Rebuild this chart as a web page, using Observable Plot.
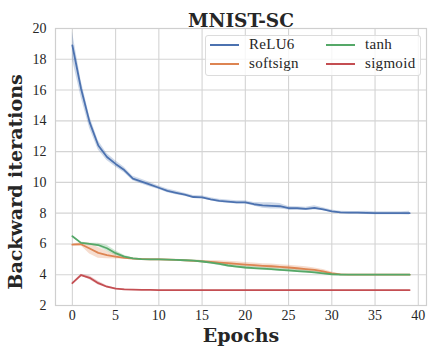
<!DOCTYPE html>
<html><head><meta charset="utf-8">
<script src="https://cdn.jsdelivr.net/npm/d3@7"></script>
<script src="https://cdn.jsdelivr.net/npm/@observablehq/plot@0.6"></script>
<style>
html,body{margin:0;padding:0;background:#fff;}
#wrap{position:relative;width:435px;height:359px;overflow:hidden;}
.legend{position:absolute;left:205px;top:35px;width:216px;height:41px;border:1px solid #dcdcdc;border-radius:3px;background:rgba(255,255,255,0.8);box-sizing:border-box;color:#262626;}
.legend .ln{position:absolute;height:2px;width:29px;}
.legend .lb{position:absolute;line-height:14px;white-space:nowrap;font-family:"Liberation Serif";font-size:15px;letter-spacing:0.3px;}
</style>
</head><body><div id="wrap"></div>
<script>
const series = ["ReLU6", "softsign", "tanh", "sigmoid"];
const colors = ["#4c72b0", "#dd8452", "#55a868", "#c44e52"];
const epochs = [0,1,2,3,4,5,6,7,8,9,10,11,12,13,14,15,16,17,18,19,20,21,22,23,24,25,26,27,28,29,30,31,32,33,34,35,36,37,38,39];
const xTicks = [0, 5, 10, 15, 20, 25, 30, 35, 40];
const yTicks = [2, 4, 6, 8, 10, 12, 14, 16, 18, 20];

const relu6 = [18.9,16.1,13.9,12.4,11.65,11.2,10.8,10.25,10.05,9.85,9.65,9.45,9.32,9.2,9.05,9.03,8.9,8.8,8.75,8.7,8.7,8.58,8.5,8.47,8.45,8.32,8.32,8.28,8.34,8.25,8.12,8.05,8.03,8.03,8.02,8.0,8.0,8.0,8.0,8.0];
const relu6Spread = [0.9,0.55,0.4,0.3,0.22,0.2,0.18,0.15,0.15,0.15,0.12,0.12,0.12,0.1,0.1,0.1,0.1,0.1,0.1,0.1,0.1,0.12,0.18,0.2,0.18,0.12,0.1,0.1,0.14,0.1,0.08,0.08,0.08,0.08,0.1,0.1,0.1,0.1,0.1,0.12];
const softsign = [5.95,5.98,5.7,5.42,5.28,5.17,5.1,5.05,5.02,5.0,5.0,4.98,4.96,4.93,4.9,4.87,4.83,4.79,4.75,4.7,4.66,4.62,4.58,4.55,4.51,4.47,4.42,4.37,4.31,4.22,4.09,4.02,4.0,4.0,4.0,4.0,4.0,4.0,4.0,4.0];
const softsignSpread = [0.05,0.1,0.35,0.35,0.25,0.15,0.08,0.05,0.03,0.03,0.03,0.03,0.05,0.05,0.05,0.06,0.1,0.12,0.13,0.14,0.14,0.14,0.14,0.14,0.14,0.14,0.14,0.14,0.13,0.12,0.08,0.03,0.02,0.02,0.02,0.02,0.02,0.02,0.02,0.02];
const tanh = [6.5,6.07,6.0,5.93,5.72,5.4,5.18,5.06,5.02,5.0,5.0,4.98,4.96,4.94,4.91,4.86,4.78,4.7,4.6,4.53,4.47,4.43,4.39,4.36,4.32,4.28,4.24,4.2,4.15,4.09,4.03,4.01,4.0,4.0,4.0,4.0,4.0,4.0,4.0,4.0];
const tanhSpread = [0.05,0.05,0.05,0.12,0.2,0.15,0.08,0.03,0.02,0.02,0.02,0.02,0.02,0.03,0.04,0.06,0.08,0.1,0.1,0.1,0.1,0.1,0.1,0.1,0.1,0.1,0.1,0.1,0.09,0.07,0.04,0.02,0.02,0.02,0.02,0.02,0.02,0.02,0.02,0.02];
const sigmoid = [3.45,3.98,3.8,3.45,3.22,3.1,3.05,3.03,3.02,3.01,3.0,3.0,3.0,3.0,3.0,3.0,3.0,3.0,3.0,3.0,3.0,3.0,3.0,3.0,3.0,3.0,3.0,3.0,3.0,3.0,3.0,3.0,3.0,3.0,3.0,3.0,3.0,3.0,3.0,3.0];
const sigmoidSpread = [0.03,0.05,0.12,0.12,0.07,0.04,0.02,0.01,0.01,0.01,0.01,0.01,0.01,0.01,0.01,0.01,0.01,0.01,0.01,0.01,0.01,0.01,0.01,0.01,0.01,0.01,0.01,0.01,0.01,0.01,0.01,0.01,0.01,0.01,0.01,0.01,0.01,0.01,0.01,0.01];

const means = [relu6, softsign, tanh, sigmoid];
const spreads = [relu6Spread, softsignSpread, tanhSpread, sigmoidSpread];
const rows = series.flatMap((s, i) => epochs.map((e, j) => ({
  series: s, epoch: e, mean: means[i][j],
  lo: means[i][j] - spreads[i][j], hi: means[i][j] + spreads[i][j]
})));

const serif = "'Liberation Serif', serif";
const bold = "'DejaVu Serif', serif";

const chart = Plot.plot({
  width: 435, height: 359,
  marginLeft: 55, marginRight: 9, marginTop: 28, marginBottom: 54,
  style: {fontFamily: serif, fontSize: "14px", color: "#262626", background: "white", overflow: "visible"},
  x: {domain: [-1.95, 40.95], ticks: xTicks, tickSize: 0, tickPadding: 5, label: null, tickFormat: d => d},
  y: {domain: [2, 20], ticks: yTicks, tickSize: 0, tickPadding: 9, label: null, tickFormat: d => d},
  color: {domain: series, range: colors},
  marks: [
    Plot.ruleX(xTicks, {stroke: "#d4d4d4", strokeWidth: 1.1}),
    Plot.ruleY(yTicks, {stroke: "#d4d4d4", strokeWidth: 1.1}),
    Plot.frame({stroke: "#cfcfcf", strokeWidth: 1.2}),
    ...series.map(s => Plot.areaY(rows.filter(d => d.series === s), {x: "epoch", y1: "lo", y2: "hi", fill: "series", fillOpacity: 0.28, curve: "linear"})),
    ...series.map(s => Plot.lineY(rows.filter(d => d.series === s), {x: "epoch", y: "mean", stroke: "series", strokeWidth: 1.8})),
    Plot.text(["MNIST-SC"], {text: d => d, frameAnchor: "top", textAnchor: "middle", dy: -15, fontFamily: bold, fontWeight: "bold", fontSize: 18.5, fill: "#262626"}),
    Plot.text(["Backward iterations"], {text: d => d, frameAnchor: "left", textAnchor: "middle", rotate: -90, dx: -40, dy: 15, fontFamily: bold, fontWeight: "bold", fontSize: 19, fill: "#262626"}),
    Plot.text(["Epochs"], {text: d => d, frameAnchor: "bottom", textAnchor: "middle", dy: 36, fontFamily: bold, fontWeight: "bold", fontSize: 19, fill: "#262626"})
  ]
});

// make sure the tick labels use the serif face
const tickSet = new Set([...xTicks, ...yTicks].map(String));
chart.querySelectorAll("text").forEach(t => {
  if (tickSet.has(t.textContent.trim())) {
    t.style.fontFamily = serif;
    t.style.fontSize = "14px";
    t.style.fill = "#262626";
  }
});

const wrap = document.getElementById("wrap");
wrap.appendChild(chart);

const legend = document.createElement("div");
legend.className = "legend";
const pos = [[0, 0], [0, 1], [1, 0], [1, 1]]; // column-major like matplotlib ncol=2
series.forEach((s, i) => {
  const [col, row] = pos[i];
  const lx = col === 0 ? 4 : 120;
  const ty = row === 0 ? 9 : 28;
  const ln = document.createElement("div");
  ln.className = "ln";
  ln.style.left = lx + "px";
  ln.style.top = (ty - 1) + "px";
  ln.style.background = colors[i];
  const lb = document.createElement("div");
  lb.className = "lb";
  lb.style.left = (lx + 39) + "px";
  lb.style.top = (ty - 8) + "px";
  lb.textContent = s;
  legend.appendChild(ln);
  legend.appendChild(lb);
});
wrap.appendChild(legend);
</script></body></html>
